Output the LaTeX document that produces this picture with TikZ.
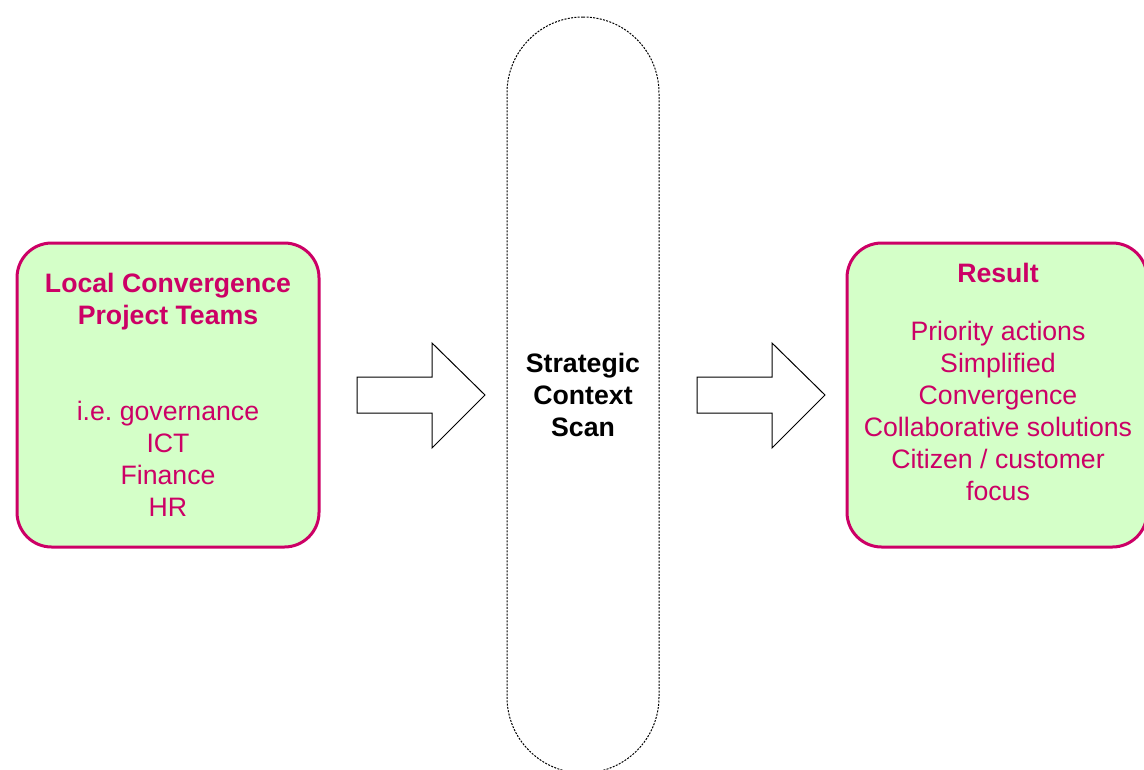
\documentclass[tikz,border=0pt]{standalone}
\usepackage{fontspec}
\setmainfont{Liberation Sans}
\usetikzlibrary{positioning}
\definecolor{teamline}{RGB}{204,0,102}
\definecolor{teamfill}{RGB}{212,255,200}
\tikzset{every picture/.style={line width=0.75pt}}
\tikzset{
  teambox/.style={draw=teamline, fill=teamfill, line width=2.25pt, rounded corners=26pt, minimum height=228pt},
  teamtext/.style={text=teamline, align=center, font=\fontsize{20}{24}\selectfont},
  blockarrow/.style={draw=black, fill=white, line width=0.75pt, line join=miter},
  scanpill/.style={draw=black, line width=0.75pt, dash pattern=on 1.5pt off 1pt, rounded corners=57pt,
    minimum width=114pt, minimum height=567pt, align=center, font=\fontsize{20}{24}\selectfont\bfseries}
}

\begin{document}
\begin{tikzpicture}[x=0.75pt,y=0.75pt,yscale=-1,xscale=1]
\useasboundingbox (0,0) rectangle (1144,769);

%Shape: Rounded Rectangle [teams]
\node [teambox, minimum width=226.5pt] (teams) at (168,395) {};
%Shape: Rounded Rectangle [result]
\node [teambox, minimum width=225pt] (result) at (997,395) {};
%Shape: Pill [scan]
\node [scanpill] (scan) at (583,395) {Strategic\\Context\\Scan};

%Shape: Right Arrow [toScan]
\draw [blockarrow] (357,377) -- (432,377) -- (432,343) -- (485,395) -- (432,448) -- (432,413) -- (357,413) -- cycle ;
%Shape: Right Arrow [toResult]
\draw [blockarrow] (697,377) -- (772,377) -- (772,343) -- (825,395) -- (772,448) -- (772,413) -- (697,413) -- cycle ;

% Text Node
\node [teamtext] (teamsText) at (teams.center) {\textbf{Local Convergence}\\\textbf{Project Teams}\\[48pt]i.e.\ governance\\ICT\\Finance\\HR};
% Text Node
\node [teamtext] (resultText) at (998,382) {\textbf{Result}\\[19.5pt]Priority actions\\Simplified\\Convergence\\Collaborative solutions\\Citizen / customer\\focus};

\end{tikzpicture}
\end{document}
